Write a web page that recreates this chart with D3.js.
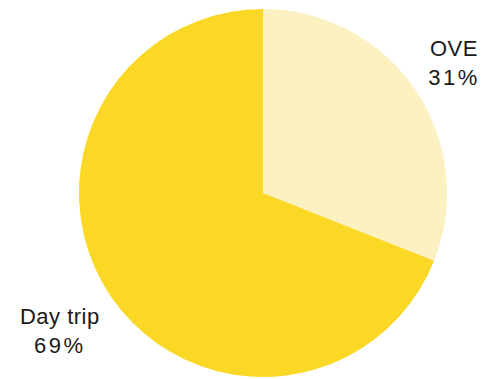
<!DOCTYPE html>
<html><head><meta charset="utf-8">
<script src="https://cdn.jsdelivr.net/npm/d3@7"></script>
<style>html,body{margin:0;padding:0;background:#fff;}svg{display:block;}</style>
</head><body>
<svg id="chart" width="485" height="379"></svg>
<script>
const categories = ["OVE", "Day trip"];
const values = [31, 69];
const colors = ["#FCF1C1", "#FBD826"];

const svg = d3.select("#chart");
const cx = 263, cy = 193, R = 184;
const g = svg.append("g").attr("transform", `translate(${cx},${cy})`);

const data = categories.map((c, i) => ({name: c, value: values[i], color: colors[i]}));
const pie = d3.pie().value(d => d.value).sort(null);
const arc = d3.arc().innerRadius(0).outerRadius(R);
const arcs = pie(data);

g.selectAll("path").data(arcs).join("path")
  .attr("d", arc)
  .attr("fill", d => d.data.color);

// labels: right-side labels sit closer to the pie than left-side ones
const labelPos = d => {
  const mid = (d.startAngle + d.endAngle) / 2;
  const r = mid < Math.PI ? R * 1.255 : R * 1.335;
  return d3.arc().innerRadius(r).outerRadius(r).centroid(d);
};
const lab = g.selectAll("g.lab").data(arcs).join("g").attr("class", "lab")
  .attr("transform", d => { const [x, y] = labelPos(d); return `translate(${x},${y})`; });
const total = d3.sum(values);
lab.append("text")
  .attr("text-anchor", "middle").attr("y", -7)
  .style("font-family", "Liberation Sans, Arial, sans-serif").style("font-size", "22px")
  .style("letter-spacing", "0.5px").attr("fill", "#1a1a1a")
  .text(d => d.data.name);
lab.append("text")
  .attr("text-anchor", "middle").attr("y", 22)
  .style("font-family", "Liberation Sans, Arial, sans-serif").style("font-size", "22px")
  .style("letter-spacing", "2.5px").attr("fill", "#1a1a1a")
  .text(d => Math.round(d.data.value / total * 100) + "%");
</script>
</body></html>
